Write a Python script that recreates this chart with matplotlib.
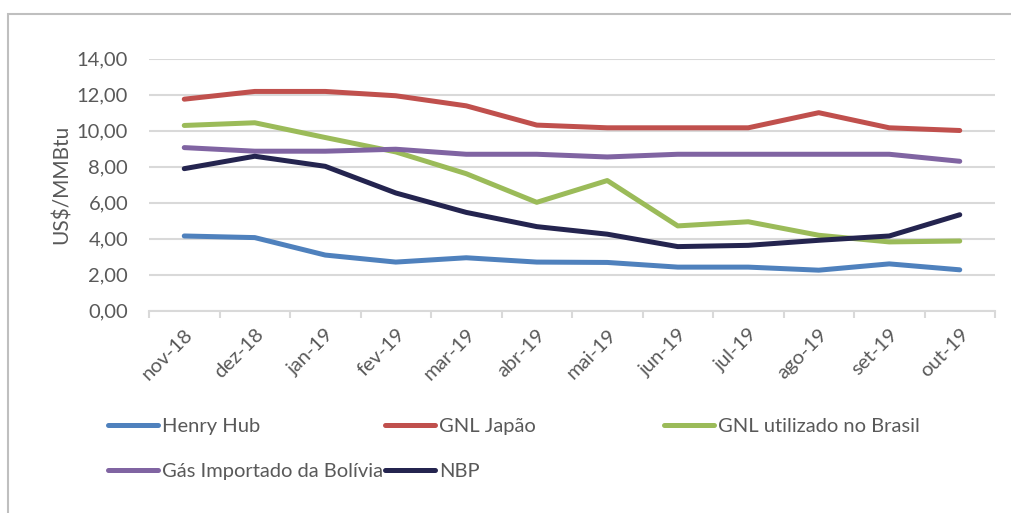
#!/usr/bin/env python3
"""
Preços internacionais de gás natural (US$/MMBtu), nov-18 a out-19.
"""

import matplotlib
matplotlib.use("Agg")
import matplotlib.pyplot as plt
from matplotlib.lines import Line2D
from matplotlib.patches import Rectangle
from matplotlib.ticker import FuncFormatter, MultipleLocator

months = ["nov-18", "dez-18", "jan-19", "fev-19", "mar-19", "abr-19",
          "mai-19", "jun-19", "jul-19", "ago-19", "set-19", "out-19"]

henry_hub = [4.14, 4.05, 3.08, 2.69, 2.93, 2.69, 2.67, 2.41, 2.41, 2.24, 2.59, 2.26]
gnl_japao = [11.74, 12.17, 12.17, 11.93, 11.37, 10.30, 10.15, 10.15, 10.15, 10.99, 10.15, 10.00]
gnl_brasil = [10.28, 10.43, 9.61, 8.81, 7.60, 6.01, 7.22, 4.70, 4.93, 4.18, 3.81, 3.86]
gas_bolivia = [9.05, 8.85, 8.85, 8.96, 8.68, 8.68, 8.53, 8.68, 8.68, 8.68, 8.68, 8.29]
nbp = [7.88, 8.57, 8.01, 6.53, 5.45, 4.66, 4.24, 3.55, 3.62, 3.90, 4.14, 5.32]

series = [
    ("Henry Hub", henry_hub, "#4F81BD"),
    ("GNL Japão", gnl_japao, "#C0504D"),
    ("GNL utilizado no Brasil", gnl_brasil, "#9BBB59"),
    ("Gás Importado da Bolívia", gas_bolivia, "#8064A2"),
    ("NBP", nbp, "#24244F"),
]

TEXT = "#595959"
GRID = "#D9D9D9"
FS = 14.5
plt.rcParams["font.family"] = ["Lato", "DejaVu Sans"]
plt.rcParams["font.size"] = FS

W, H = 1011, 513
fig = plt.figure(figsize=(W / 100, H / 100), dpi=100)

# outer chart frame (only top and left edges visible)
fig.patches.append(Rectangle((8 / W, -0.1), 1.2, 1 - 13.5 / H + 0.1,
                             transform=fig.transFigure, fill=False,
                             edgecolor="#BFBFBF", linewidth=1.5))

left, right, top, bottom = 149, 995, 58.5, 310.5
ax = fig.add_axes([left / W, 1 - bottom / H, (right - left) / W, (bottom - top) / H])

x = range(len(months))
for name, vals, color in series:
    ax.plot(x, vals, color=color, linewidth=3.6, solid_capstyle="round",
            solid_joinstyle="round", label=name, zorder=3)

ax.set_xlim(-0.5, len(months) - 0.5)
ax.set_ylim(0, 14)
ax.yaxis.set_major_locator(MultipleLocator(2))
ax.yaxis.set_major_formatter(FuncFormatter(lambda v, p: f"{v:.2f}".replace(".", ",")))
ax.grid(axis="y", color=GRID, linewidth=1.5, zorder=0)
for s in ["top", "right", "left"]:
    ax.spines[s].set_visible(False)
ax.spines["bottom"].set_color(GRID)
ax.spines["bottom"].set_linewidth(1.5)

ax.set_xticks(list(x))
ax.set_xticklabels(months, rotation=45, ha="right", va="top",
                   rotation_mode="anchor", color=TEXT)
ax.tick_params(axis="x", which="major", length=0, pad=11)
ax.set_xticks([i - 0.5 for i in range(len(months) + 1)], minor=True)
ax.tick_params(axis="x", which="minor", length=5, width=1.5, color=GRID)
ax.tick_params(axis="y", length=0, pad=15, labelcolor=TEXT)

ax.set_ylabel("US$/MMBtu", color=TEXT, fontsize=15)
ax.yaxis.set_label_coords(-0.091, 0.5)

# legend laid out like the Excel one: three slots per row
legend_pos = [(108, 426), (385, 426), (664, 426), (108, 471), (385, 471)]
for (name, vals, color), (lx, ly) in zip(series, legend_pos):
    h = Line2D([], [], color=color, linewidth=3.6, solid_capstyle="round")
    fig.legend(handles=[h], labels=[name], loc="center left",
               bbox_to_anchor=(lx / W, 1 - ly / H), frameon=False,
               handlelength=2.5, handletextpad=0.2, borderpad=0,
               borderaxespad=0, labelcolor=TEXT, fontsize=FS)

fig.savefig("out.png", dpi=100, facecolor="white")
